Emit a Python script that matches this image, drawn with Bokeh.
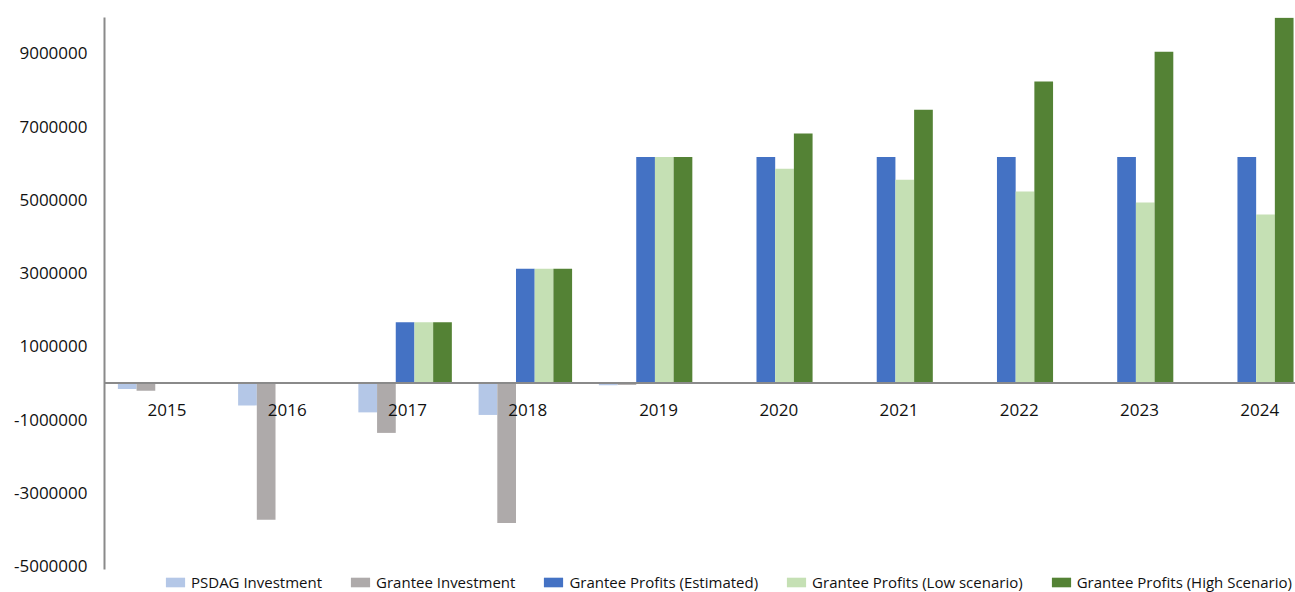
from bokeh.plotting import figure
from bokeh.models import Range1d, Span, Legend, LegendItem, FixedTicker, ColumnDataSource, PrintfTickFormatter
from bokeh.core.properties import value
from bokeh.embed import file_html
from bokeh.resources import INLINE

years = ["2015", "2016", "2017", "2018", "2019", "2020", "2021", "2022", "2023", "2024"]
psdag_investment = [-160000, -610000, -800000, -870000, -60000, 0, 0, 0, 0, 0]
grantee_investment = [-210000, -3730000, -1360000, -3820000, -50000, 0, 0, 0, 0, 0]
profits_estimated = [0, 0, 1660000, 3120000, 6170000, 6170000, 6170000, 6170000, 6170000, 6170000]
profits_low = [0, 0, 1660000, 3120000, 6170000, 5850000, 5550000, 5230000, 4930000, 4600000]
profits_high = [0, 0, 1660000, 3120000, 6170000, 6810000, 7460000, 8230000, 9040000, 9970000]
series_names = ["PSDAG Investment", "Grantee Investment", "Grantee Profits (Estimated)",
                "Grantee Profits (Low scenario)", "Grantee Profits (High Scenario)"]
series_colors = ["#B4C7E7", "#AEAAAA", "#4472C4", "#C5E0B4", "#548235"]
y_ticks = [-5000000, -3000000, -1000000, 1000000, 3000000, 5000000, 7000000, 9000000]

FONT = "Open Sans"
W, H = 1295, 592
Y_MIN, Y_MAX = -5090000, 9975000

p = figure(width=W, height=H, output_backend="svg", toolbar_location=None,
           x_range=Range1d(0, 9.905), y_range=Range1d(-5715000, Y_MAX),
           min_border_left=104, min_border_right=0, min_border_top=17, min_border_bottom=0,
           x_axis_location=None)
p.outline_line_color = None
p.xgrid.visible = False
p.ygrid.visible = False
p.background_fill_color = "white"
p.border_fill_color = "white"

ax = p.yaxis[0]
ax.ticker = FixedTicker(ticks=y_ticks)
ax.bounds = (Y_MIN, Y_MAX)
ax.axis_line_color = "#8A8A8A"
ax.axis_line_width = 2
ax.major_tick_line_color = None
ax.minor_tick_line_color = None
ax.major_label_standoff = 11
ax.major_label_text_font = FONT
ax.major_label_text_font_size = "17px"
ax.major_label_text_color = "#111111"
ax.formatter = PrintfTickFormatter(format="%d")

bw = 0.1555
centers = [i + 0.5 for i in range(len(years))]
all_series = [psdag_investment, grantee_investment, profits_estimated, profits_low, profits_high]
renderers = []
for j, (vals, col) in enumerate(zip(all_series, series_colors)):
    xs = [c + (j - 2) * bw for c in centers]
    r = p.vbar(x=xs, top=vals, bottom=0, width=bw, fill_color=col, line_color=None)
    renderers.append(r)

p.add_layout(Span(location=0, dimension="width", line_color="#8A8A8A", line_width=2))

# category labels sit just under the zero line
lab_x = [c + (0.02 if i < 4 else 0.108) for i, c in enumerate(centers)]
src = ColumnDataSource(dict(x=lab_x, y=[0] * len(years), t=years))
p.text(x="x", y="y", text="t", source=src, text_font=value(FONT), text_font_size="17px",
       text_align="center", text_baseline="middle", y_offset=27, text_color="#111111")

legend = Legend(items=[LegendItem(label=n, renderers=[r]) for n, r in zip(series_names, renderers)],
                location=(59, 0), orientation="horizontal", glyph_width=24, glyph_height=12,
                label_standoff=4, spacing=26, padding=0, margin=0,
                label_text_font=FONT, label_text_font_size="15px", label_text_color="#111111",
                border_line_color=None, background_fill_alpha=0, label_height=19)
p.add_layout(legend, "center")

open("out.html", "w").write(file_html(p, INLINE))
